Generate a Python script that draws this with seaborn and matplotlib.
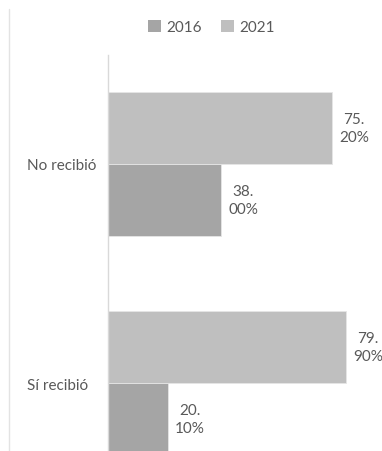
import matplotlib
matplotlib.use("Agg")
import matplotlib.pyplot as plt
from matplotlib.lines import Line2D
from matplotlib.patches import Patch
import seaborn as sns
import pandas as pd

categories = ["No recibió", "Sí recibió"]
values_2016 = [38.00, 20.10]
values_2021 = [75.20, 79.90]
years = ["2016", "2021"]
colors = {"2016": "#a5a5a5", "2021": "#bfbfbf"}

df = pd.DataFrame({
    "categoria": categories * 2,
    "valor": values_2016 + values_2021,
    "anio": [years[0]] * len(categories) + [years[1]] * len(categories),
})

sns.set_style("white")
plt.rcParams["font.family"] = ["Lato", "DejaVu Sans"]
text_color = "#595959"
fs = 11

fig = plt.figure(figsize=(3.82, 4.52), dpi=100)
# axes extend past the bottom edge of the figure
ax = fig.add_axes([108 / 382, -41.5 / 452, 268 / 382, 438 / 452])

sns.barplot(
    data=df, y="categoria", x="valor", hue="anio",
    order=categories, hue_order=["2021", "2016"],
    palette=colors, orient="h", width=0.66, gap=0,
    edgecolor="#e6e6e6", linewidth=0.6, legend=False, ax=ax,
)

ax.set_xlim(0, 90)
ax.set_ylim(1.5, -0.5)
ax.set_xlabel("")
ax.set_ylabel("")
ax.set_xticks([])
for side in ["top", "right", "bottom"]:
    ax.spines[side].set_visible(False)
ax.spines["left"].set_color("#d9d9d9")
ax.spines["left"].set_linewidth(1.0)

ax.tick_params(axis="y", length=0, pad=81 * 0.72, labelsize=fs, labelcolor=text_color)
for lab in ax.get_yticklabels():
    lab.set_horizontalalignment("left")

# value labels at bar ends
for cont in ax.containers:
    for bar in cont:
        v = bar.get_width()
        s = f"{v:.2f}%"
        whole, frac = s.split(".")
        ax.annotate(
            f"{whole}.\n{frac}",
            xy=(v, bar.get_y() + bar.get_height() / 2),
            xytext=(5, 0), textcoords="offset points",
            ha="left", va="center", multialignment="center",
            fontsize=fs, color=text_color, linespacing=1.35,
        )

handles = [Patch(facecolor=colors[y], edgecolor="none") for y in years]
fig.legend(
    handles, years, loc="center", bbox_to_anchor=(211.5 / 382, 1 - 28 / 452),
    ncol=2, frameon=False, fontsize=fs, labelcolor=text_color,
    handlelength=0.85, handleheight=0.85, handletextpad=0.35, columnspacing=1.3,
)

# thin frame line on the left edge
fig.add_artist(Line2D([8.5 / 382, 8.5 / 382], [0, 1 - 10 / 452],
                      transform=fig.transFigure, color="#e3e3e3", linewidth=1.0))

fig.savefig("out.png", dpi=100)
